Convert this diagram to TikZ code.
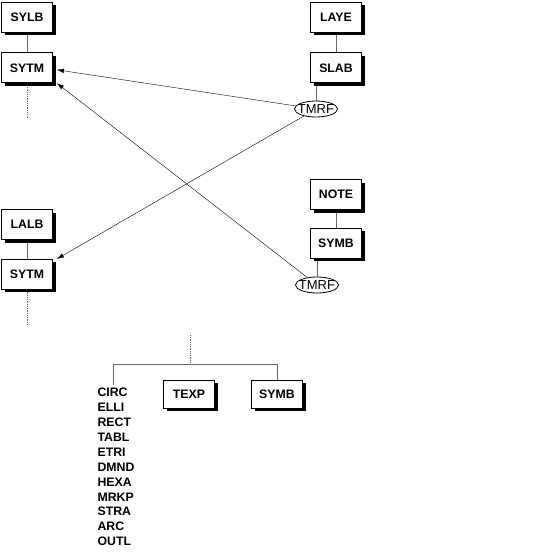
\documentclass[tikz,border=0pt]{standalone}
\usepackage{fontspec}
\setmainfont{Liberation Sans}
\usetikzlibrary{arrows.meta, positioning, shapes.geometric, shadows, backgrounds}

\begin{document}
\begin{tikzpicture}[x=1pt, y=-1pt,
        box/.style={rectangle, draw, fill=white, line width=0.8pt, minimum width=51pt, minimum height=30pt,
            font=\fontsize{12.3}{14}\selectfont\bfseries,
            drop shadow={shadow xshift=3pt, shadow yshift=-3pt, fill=black, opacity=1}},
        ref/.style={ellipse, draw, fill=white, line width=0.8pt, minimum width=43pt, minimum height=16pt,
            inner xsep=-3pt, inner ysep=0.5pt, font=\fontsize{13}{14}\selectfont},
        link/.style={draw=black!60, line width=0.8pt},
        dots/.style={draw=black!60, line width=0.8pt, densely dotted},
        >={Latex[length=7pt, width=4.5pt]}
    ]
        \useasboundingbox (0,0) rectangle (539,557);

        \node[box] (sylb) at (27,17) {SYLB};
        \node[box, below=20pt of sylb] (sytmA) {SYTM};
        \node[box] (laye) at (336,17) {LAYE};
        \node[box, below=20pt of laye] (slab) {SLAB};
        \node[ref] (tmrfA) at (316,109) {TMRF};

        \node[box] (note) at (336,194.5) {NOTE};
        \node[box, below=18pt of note] (symbA) {SYMB};
        \node[ref] (tmrfB) at (317,285) {TMRF};
        \node[box] (lalb) at (27,224.5) {LALB};
        \node[box, below=19pt of lalb] (sytmB) {SYTM};

        \coordinate (tailA) at (27,118);
        \coordinate (tailB) at (27,325);

        % lower tree
        \coordinate (root) at (190,335);
        \coordinate (fork) at (190,364);
        \coordinate (forkL) at (113,364);
        \coordinate (listtop) at (113,385);
        \node[box, minimum height=28pt] (texp) at (189,394) {TEXP};
        \node[box, minimum height=28pt] (symbB) at (277,394) {SYMB};
        \node[anchor=north, align=left, inner sep=3pt,
            font=\fontsize{12.3}{14.9}\selectfont\bfseries] (kinds) at ([xshift=3pt]listtop)
            {CIRC\\ELLI\\RECT\\TABL\\ETRI\\DMND\\HEXA\\MRKP\\STRA\\ARC\\OUTL};

        \begin{scope}[on background layer]
            \draw[link] (sylb) -- (sytmA);
            \draw[link] (laye) -- (slab);
            \draw[link] (tmrfA) -- (tmrfA |- slab);
            \draw[link] (note) -- (symbA);
            \draw[link] (tmrfB) -- (tmrfB |- symbA);
            \draw[link] (lalb) -- (sytmB);
            \draw[dots] (sytmA) -- (tailA);
            \draw[dots] (sytmB) -- (tailB);
            \draw[dots] (root) -- (fork);
            \draw[link] (listtop) -- (forkL) -- (forkL -| symbB) -- (symbB);
        \end{scope}

        \draw[->] (tmrfA) -- ([xshift=4pt, yshift=-2pt]sytmA.east);
        \draw[->] (tmrfA) -- ([xshift=4pt]sytmB.north east);
        \draw[->] (tmrfB) -- ([xshift=4pt]sytmA.south east);
\end{tikzpicture}
\end{document}
